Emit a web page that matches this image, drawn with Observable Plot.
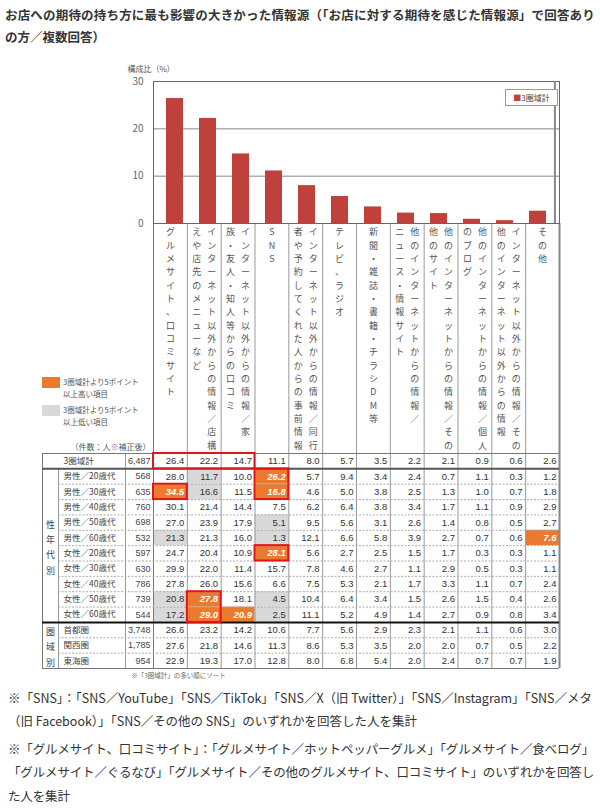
<!DOCTYPE html>
<html><head><meta charset="utf-8">
<script src="https://cdn.jsdelivr.net/npm/d3@7"></script>
<script src="https://cdn.jsdelivr.net/npm/@observablehq/plot@0.6"></script>
<style>
body{margin:0;background:#fff;}
#root{position:relative;width:600px;height:811px;font-family:"Noto Sans CJK JP","Noto Sans",sans-serif;color:#333;overflow:hidden;background:#fff;}
#root svg{position:absolute;left:0;top:0;}
.ln{position:absolute;white-space:nowrap;display:inline-block;}
.title{font-size:12.5px;font-weight:bold;color:#333;}
.foot{font-size:12.5px;color:#333;}
.lg{position:absolute;font-size:7.5px;line-height:11.5px;color:#555;white-space:nowrap;}
.sw{position:absolute;width:18px;height:11px;}
#legendBox{position:absolute;left:505px;top:89px;width:51px;height:15px;border:1px solid #d98080;font-size:8px;line-height:15px;color:#444;text-align:center;background:#fff;}
</style></head>
<body><div id="root"></div>
<script>
// ---------------- data ----------------
const titleLines = [
  "お店への期待の持ち方に最も影響の大きかった情報源（「お店に対する期待を感じた情報源」で回答あり",
  "の方／複数回答）"
];
// vertical category labels, split into the columns they occupy (right column first)
const labelColumns = [
  ["グルメサイト、口コミサイト"],
  ["インターネット以外からの情報／店構", "えや店先のメニューなど"],
  ["インターネット以外からの情報／家", "族・友人・知人等からの口コミ"],
  ["SNS"],
  ["インターネット以外からの情報／同行", "者や予約してくれた人からの事前情報"],
  ["テレビ、ラジオ"],
  ["新聞・雑誌・書籍・チラシDM等"],
  ["他のインターネットからの情報／", "ニュース・情報サイト"],
  ["他のインターネットからの情報／その", "他のサイト"],
  ["他のインターネットからの情報／個人", "のブログ"],
  ["インターネット以外からの情報／その", "他のインターネット以外からの情報"],
  ["その他"]
];
const categories = labelColumns.map(p => p.join(""));
const total = [26.4, 22.2, 14.7, 11.1, 8.0, 5.7, 3.5, 2.2, 2.1, 0.9, 0.6, 2.6];
const yTicks = [0, 10, 20, 30];
const seriesName = "3圏域計";

const rowNames = ["3圏域計", "男性／20歳代", "男性／30歳代", "男性／40歳代", "男性／50歳代", "男性／60歳代",
  "女性／20歳代", "女性／30歳代", "女性／40歳代", "女性／50歳代", "女性／60歳代", "首都圏", "関西圏", "東海圏"];
const rowCounts = [6487, 568, 635, 760, 698, 532, 597, 630, 786, 739, 544, 3748, 1785, 954];
const male20 = [28.0, 11.7, 10.0, 26.2, 5.7, 9.4, 3.4, 2.4, 0.7, 1.1, 0.3, 1.2];
const male30 = [34.5, 16.6, 11.5, 16.8, 4.6, 5.0, 3.8, 2.5, 1.3, 1.0, 0.7, 1.8];
const male40 = [30.1, 21.4, 14.4, 7.5, 6.2, 6.4, 3.8, 3.4, 1.7, 1.1, 0.9, 2.9];
const male50 = [27.0, 23.9, 17.9, 5.1, 9.5, 5.6, 3.1, 2.6, 1.4, 0.8, 0.5, 2.7];
const male60 = [21.3, 21.3, 16.0, 1.3, 12.1, 6.6, 5.8, 3.9, 2.7, 0.7, 0.6, 7.6];
const female20 = [24.7, 20.4, 10.9, 28.1, 5.6, 2.7, 2.5, 1.5, 1.7, 0.3, 0.3, 1.1];
const female30 = [29.9, 22.0, 11.4, 15.7, 7.8, 4.6, 2.7, 1.1, 2.9, 0.5, 0.3, 1.1];
const female40 = [27.8, 26.0, 15.6, 6.6, 7.5, 5.3, 2.1, 1.7, 3.3, 1.1, 0.7, 2.4];
const female50 = [20.8, 27.8, 18.1, 4.5, 10.4, 6.4, 3.4, 1.5, 2.6, 1.5, 0.4, 2.6];
const female60 = [17.2, 29.0, 20.9, 2.5, 11.1, 5.2, 4.9, 1.4, 2.7, 0.9, 0.8, 3.4];
const shutoken = [26.6, 23.2, 14.2, 10.6, 7.7, 5.6, 2.9, 2.3, 2.1, 1.1, 0.6, 3.0];
const kansai = [27.6, 21.8, 14.6, 11.3, 8.6, 5.3, 3.5, 2.0, 2.0, 0.7, 0.5, 2.2];
const tokai = [22.9, 19.3, 17.0, 12.8, 8.0, 6.8, 5.4, 2.0, 2.4, 0.7, 0.7, 1.9];
const rowValues = [total, male20, male30, male40, male50, male60,
  female20, female30, female40, female50, female60, shutoken, kansai, tokai];
const groups = [{name: "性年代別", from: 1, to: 11}, {name: "圏域別", from: 11, to: 14}];
// red emphasis boxes: [firstRow, lastRow, firstCol, lastCol]
const redBoxes = [[0, 0, 0, 2], [2, 2, 0, 0], [1, 2, 3, 3], [6, 6, 3, 3], [9, 10, 1, 1]];
const legendItems = ["3圏域計より5ポイント\n以上高い項目", "3圏域計より5ポイント\n以上低い項目"];
const countNote = "（件数：人※補正後）";
const sortNote = "※「3圏域計」の多い順にソート";
const yLabel = "構成比（%）";
const footnotes = [
  ["※「SNS」：「SNS／YouTube」「SNS／TikTok」「SNS／X（旧 Twitter）」「SNS／Instagram」「SNS／メタ",
   "（旧 Facebook）」「SNS／その他の SNS」のいずれかを回答した人を集計"],
  ["※「グルメサイト、口コミサイト」：「グルメサイト／ホットペッパーグルメ」「グルメサイト／食べログ」",
   "「グルメサイト／ぐるなび」「グルメサイト／その他のグルメサイト、口コミサイト」のいずれかを回答し",
   "た人を集計"]
];

// ---------------- styles / layout ----------------
const RED = "#c0403c", ORANGE = "#ec7a2e", GRAY = "#d9d9d9", BOX = "#e3141b";
const FONT = "'Noto Sans CJK JP','Noto Sans',sans-serif";
const NUMFONT = "'Liberation Sans',Arial,sans-serif";
const L = 153, R = 559, T = 81, B = 223;
const tblTop = 453, tblBot = 668;
const colW = (R - L) / 12, rowH = (tblBot - tblTop) / 14;
const X = px => (px - L) / colW;
const Y = py => (py - tblTop) / rowH;

const root = document.getElementById("root");

// ---------------- table + vertical labels ----------------
const cells = rowValues.flatMap((vals, r) => vals.map((v, c) => {
  const d = Math.round((v - total[c]) * 10);
  return {r, c, v, cls: r === 0 ? null : d >= 50 ? "high" : d <= -50 ? "low" : null};
}));
const parts = labelColumns.flatMap((p, i) => p.length === 1
  ? [{i, t: p[0], pos: "c"}]
  : [{i, t: p[0], pos: "r"}, {i, t: p[1], pos: "l"}]);
const vert = s => [...s].join("\n");
const dashedRows = d3.range(2, 11).concat([12, 13]);
const vLabelOpts = {y: Y(225.5), text: d => vert(d.t), lineAnchor: "top", lineHeight: 1.48, fontSize: 9, fill: "#555", x: d => d.i + 0.5};

const table = Plot.plot({
  width: 600, height: 700, margin: 0,
  x: {type: "linear", domain: [0, 12], range: [L, R], axis: null},
  y: {type: "linear", domain: [0, 14], range: [tblTop, tblBot], axis: null},
  style: {fontFamily: FONT, fontSize: "9px", color: "#333", background: "transparent", overflow: "visible"},
  marks: [
    Plot.rect(cells.filter(d => d.cls === "high"), {x1: d => d.c, x2: d => d.c + 1, y1: d => d.r, y2: d => d.r + 1, fill: ORANGE}),
    Plot.rect(cells.filter(d => d.cls === "low"), {x1: d => d.c, x2: d => d.c + 1, y1: d => d.r, y2: d => d.r + 1, fill: GRAY}),
    // vertical lines
    Plot.ruleX(d3.range(1, 12), {y1: Y(B), y2: 14, stroke: "#999"}),
    Plot.ruleX([0], {y1: Y(B), y2: 14, stroke: "#777"}),
    Plot.ruleX([12], {y1: Y(B), y2: 14, stroke: "#888", strokeWidth: 2}),
    Plot.ruleX([X(125)], {y1: 0, y2: 14, stroke: "#999"}),
    Plot.ruleX([X(58)], {y1: 1, y2: 14, stroke: "#999"}),
    Plot.ruleX([X(42)], {y1: 0, y2: 14, stroke: "#777"}),
    // horizontal lines
    Plot.ruleY(dashedRows, {x1: X(58), x2: 12, stroke: "#aaa", strokeDasharray: "2,1.5"}),
    Plot.ruleY([0, 14], {x1: X(42), x2: 12, stroke: "#777"}),
    Plot.ruleY([1], {x1: X(42), x2: 12, stroke: "#555", strokeWidth: 2}),
    Plot.ruleY([11], {x1: X(42), x2: 12, stroke: "#111", strokeWidth: 2}),
    // vertical category labels
    Plot.text(parts.filter(d => d.pos === "c"), vLabelOpts),
    Plot.text(parts.filter(d => d.pos === "r"), {...vLabelOpts, dx: 7.5}),
    Plot.text(parts.filter(d => d.pos === "l"), {...vLabelOpts, dx: -7.5}),
    // values
    Plot.text(cells.filter(d => d.cls !== "high"), {x: d => d.c + 1, y: d => d.r + 0.5, text: d => d.v.toFixed(1), dx: -3, textAnchor: "end", fontSize: 9.5, fontFamily: NUMFONT, fill: "#333"}),
    Plot.text(cells.filter(d => d.cls === "high"), {x: d => d.c + 1, y: d => d.r + 0.5, text: d => d.v.toFixed(1), dx: -3, textAnchor: "end", fontSize: 9.5, fontFamily: NUMFONT, fill: "#fff", fontWeight: "bold", fontStyle: "italic"}),
    Plot.text(rowCounts, {x: 0, y: (d, i) => i + 0.5, text: d => d3.format(",")(d), dx: -3, textAnchor: "end", fontSize: 9, fontFamily: NUMFONT, fill: "#444"}),
    Plot.text(rowNames, {x: X(63), y: (d, i) => i + 0.5, textAnchor: "start", fontSize: 8.5, fill: "#444"}),
    Plot.text(groups, {x: X(50), y: d => (d.from + d.to) / 2, text: d => vert(d.name), lineAnchor: "middle", lineHeight: rowH / 9, fontSize: 9, fill: "#444"}),
    Plot.rect(redBoxes, {x1: d => d[2], x2: d => d[3] + 1, y1: d => d[0], y2: d => d[1] + 1, fill: "none", stroke: BOX, strokeWidth: 2}),
    Plot.text([countNote], {x: X(150), y: Y(447), textAnchor: "end", fontSize: 8, fill: "#555"}),
    Plot.text([sortNote], {x: X(178), y: Y(675), fontSize: 6.5, fill: "#666"})
  ]
});
root.appendChild(table);

// ---------------- bar chart ----------------
const bars = categories.map((c, i) => ({c, v: total[i]}));
const chart = Plot.plot({
  width: 600, height: 240,
  marginTop: T, marginBottom: 240 - B, marginLeft: L, marginRight: 600 - R,
  x: {type: "band", domain: categories, paddingInner: 0.5, paddingOuter: 0.25, axis: null},
  y: {domain: [0, 30], axis: null},
  style: {fontFamily: FONT, fontSize: "10px", color: "#555", background: "transparent", overflow: "visible"},
  marks: [
    Plot.gridY([10, 20], {stroke: "#888", strokeOpacity: 1}),
    Plot.barY(bars, {x: "c", y: "v", fill: RED}),
    Plot.frame({stroke: "#666"}),
    Plot.ruleX([categories[11]], {dx: colW / 2, stroke: "#888", strokeWidth: 2}),
    Plot.axisY(yTicks, {tickSize: 0, tickPadding: 10, fontSize: 10, fill: "#666", label: null}),
    Plot.text([yLabel], {frameAnchor: "top-left", dx: -26, dy: -15, textAnchor: "start", fontSize: 8, fill: "#555"})
  ]
});
root.appendChild(chart);

// ---------------- html text ----------------
function addLine(text, cls, left, top, target) {
  const el = document.createElement("div");
  el.className = "ln " + cls;
  el.style.left = left + "px"; el.style.top = top + "px";
  el.textContent = text;
  root.appendChild(el);
  let ls = 0;
  if (target) {
    const w = el.getBoundingClientRect().width;
    ls = (target - w) / text.length;
    el.style.letterSpacing = ls + "px";
  }
  return {el, ls};
}
addLine(titleLines[0], "title", 5, 5, 590);
addLine(titleLines[1], "title", 5, 27);

const f1 = addLine(footnotes[0][0], "foot", 8, 688, 584);
const f2 = addLine(footnotes[0][1], "foot", 8, 711);
f2.el.style.letterSpacing = f1.ls + "px";
const f3 = addLine(footnotes[1][0], "foot", 8, 739, 586);
const f4 = addLine(footnotes[1][1], "foot", 8, 762, 586);
const f5 = addLine(footnotes[1][2], "foot", 8, 786);
f5.el.style.letterSpacing = f3.ls + "px";

// legend of chart
const lb = document.createElement("div");
lb.id = "legendBox";
lb.innerHTML = `<span style="color:${RED}">■</span>${seriesName}`;
root.appendChild(lb);

// highlight legend
[[ORANGE, 376], [GRAY, 404]].forEach(([col, top], k) => {
  const sw = document.createElement("div");
  sw.className = "sw"; sw.style.left = "42px"; sw.style.top = (top + 1) + "px"; sw.style.background = col;
  root.appendChild(sw);
  const t = document.createElement("div");
  t.className = "lg"; t.style.left = "63px"; t.style.top = top + "px";
  t.innerHTML = legendItems[k].replace("\n", "<br>");
  root.appendChild(t);
});
</script>
</body></html>
